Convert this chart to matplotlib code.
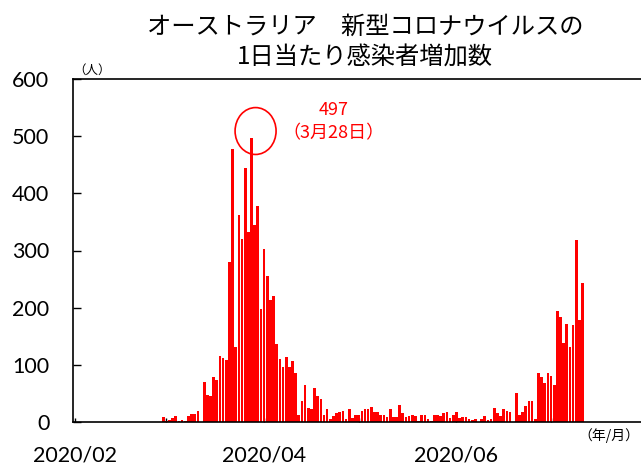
import matplotlib
matplotlib.use("Agg")
import matplotlib.pyplot as plt
import matplotlib.dates as mdates
from matplotlib.patches import Ellipse
import pandas as pd

plt.rcParams['font.family'] = ['Noto Sans CJK JP', 'DejaVu Sans']

# ---- data ----
start_date = "2020-02-29"
daily_cases = [
    9, 2, 3, 7, 11, 2, 3, 2, 11, 14, 14, 19, 0, 70, 48, 45, 79, 74, 115, 112,
    109, 280, 477, 132, 362, 320, 445, 333, 497, 345, 377, 198, 303, 255, 213, 221,
    136, 110, 97, 114, 97, 106, 85, 12, 36, 64, 24, 22, 59, 45, 41, 13, 22, 6,
    10, 15, 17, 20, 6, 22, 7, 13, 12, 19, 23, 23, 27, 18, 18, 13, 12, 8, 22, 9,
    8, 30, 16, 8, 10, 13, 10, 1, 13, 13, 5, 1, 12, 13, 10, 15, 18, 7, 12, 17,
    7, 9, 8, 6, 3, 5, 0, 6, 10, 3, 5, 25, 15, 11, 22, 20, 17, 0, 50, 12,
    17, 28, 36, 36, 5, 85, 78, 69, 85, 80, 64, 194, 183, 139, 171, 131, 169, 318,
    178, 244,
]
dates = pd.date_range(start_date, periods=len(daily_cases), freq="D")

y_ticks = [0, 100, 200, 300, 400, 500, 600]
x_tick_dates = ["2020-02-01", "2020-04-01", "2020-06-01"]
x_tick_labels = ["2020/02", "2020/04", "2020/06"]
title_line1 = "オーストラリア　新型コロナウイルスの"
title_line2 = "1日当たり感染者増加数"
peak_value = max(daily_cases)
peak_date = dates[daily_cases.index(peak_value)]
peak_label = "（3月28日）"

# ---- figure ----
fig = plt.figure(figsize=(6.41, 4.67), dpi=100)
ax = fig.add_axes([73/641, 45/467, (657-73)/641, (422-79)/467])

ax.bar(dates, daily_cases, width=0.85, color="#FF0000", edgecolor="none", zorder=2)

x0 = pd.Timestamp("2020-02-01")
ax.set_xlim(mdates.date2num(x0) - 0.6, mdates.date2num(x0) + 184.6)
ax.set_ylim(0, 600)

ax.set_yticks(y_ticks)
ax.set_yticklabels([str(v) for v in y_ticks], family=["Lato", "DejaVu Sans"], fontsize=15.5)
ax.tick_params(axis="y", direction="in", length=6, width=1, pad=17, colors="black")

ax.set_xticks([pd.Timestamp(d) for d in x_tick_dates])
ax.set_xticklabels(x_tick_labels, family=["Lato", "DejaVu Sans"], fontsize=15.5)
ax.xaxis.set_minor_locator(mdates.MonthLocator())
ax.tick_params(axis="x", which="major", direction="in", length=3, width=1, pad=17)
ax.tick_params(axis="x", which="minor", direction="in", length=3, width=1)

for side in ["left", "top", "bottom", "right"]:
    ax.spines[side].set_linewidth(1.2)
    ax.spines[side].set_color("black")
    ax.spines[side].set_zorder(3)

# peak annotation
pk = mdates.date2num(peak_date)
ax.add_patch(Ellipse((pk + 1.3, peak_value + 12), width=13, height=82,
                     fill=False, edgecolor="#FF0000", linewidth=1.2, zorder=4, clip_on=False))
ax.text(pk + 26, peak_value + 49, str(peak_value), color="#FF0000", fontsize=13,
        ha="center", va="center")
ax.text(pk + 26, peak_value + 8, peak_label, color="#FF0000", fontsize=13,
        ha="center", va="center")

# titles and unit labels
fig.text(365/641, 1 - 27/467, title_line1, fontsize=17.5, ha="center", va="center")
fig.text(365/641, 1 - 58/467, title_line2, fontsize=17.5, ha="center", va="center")
fig.text(92/641, 1 - 70/467, "（人）", fontsize=9, ha="center", va="center")
fig.text(609/641, 1 - 436/467, "（年/月）", fontsize=10, ha="center", va="center")

fig.savefig("out.png", dpi=100)
